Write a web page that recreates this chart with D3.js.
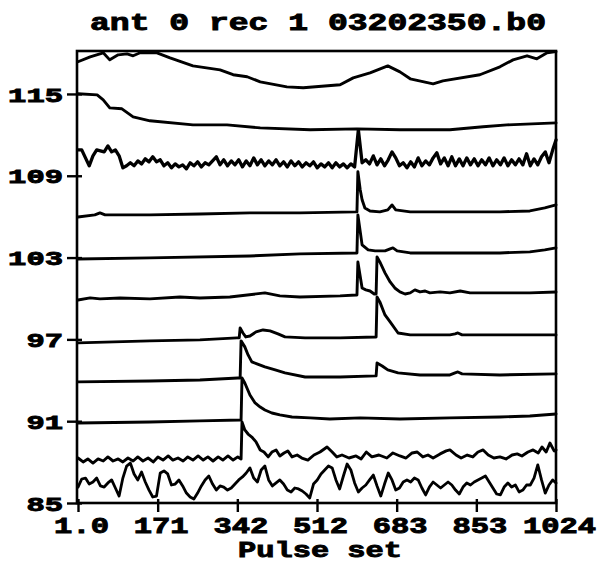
<!DOCTYPE html>
<html>
<head>
<meta charset="utf-8">
<script src="https://cdn.jsdelivr.net/npm/d3@7/dist/d3.min.js"></script>
<style>
  html, body { margin: 0; padding: 0; background: #fff; }
  svg { display: block; }
  text { font-family: "Liberation Mono", "DejaVu Sans Mono", monospace; font-weight: bold; fill: #000; stroke: #000; stroke-width: 0.9px; }
</style>
</head>
<body>
<svg id="chart" width="603" height="565"></svg>
<script>
// ---------------- DATA ----------------
const titleText = "ant 0 rec 1 03202350.b0";
const xLabelText = "Pulse set";
const xTickValues = [1, 171.5, 342, 512.5, 683, 853.5, 1024];
const xTickLabels = ["1.0", "171", "342", "512", "683", "853", "1024"];
const yTickValues = [85, 91, 97, 103, 109, 115];
const yTickLabels = ["85", "91", "97", "103", "109", "115"];

// traces given as [pulse set, value]
const trace1 = [[1,117.36],[27,117.72],[55,118.02],[69,117.50],[87,117.87],[106,117.94],[119,117.80],[134,118.02],[170,118.02],[198,117.65],[247,117.06],[305,116.77],[333,116.41],[363,116.26],[391,115.89],[448,115.52],[483,115.45],[562,115.67],[590,116.18],[626,116.55],[664,117.06],[690,116.62],[712,116.11],[761,115.74],[782,115.96],[861,116.41],[904,116.99],[932,117.50],[962,117.80],[983,117.58],[1005,118.02],[1024,118.10]];
const trace2 = [[1,115.01],[42,114.93],[55,114.57],[69,113.98],[95,113.91],[119,113.32],[155,113.03],[247,112.73],[320,112.73],[391,112.51],[498,112.37],[598,112.44],[690,112.37],[797,112.37],[868,112.59],[919,112.73],[1024,112.88]];
// noisy traces sampled every 8 pulse sets
const noisyPulses = [1,9,17,25,33,41,49,57,65,73,81,89,97,105,113,121,129,137,145,153,161,169,177,185,193,201,209,217,225,233,241,249,257,265,273,281,289,297,305,313,321,329,337,345,353,361,369,377,385,393,401,409,417,425,433,441,449,457,465,473,481,489,497,505,513,521,529,537,545,553,561,569,577,585,593,601,609,617,625,633,641,649,657,665,673,681,689,697,705,713,721,729,737,745,753,761,769,777,785,793,801,809,817,825,833,841,849,857,865,873,881,889,897,905,913,921,929,937,945,953,961,969,977,985,993,1001,1009,1017,1024];
const trace3Values = [110.90,110.90,110.31,109.73,110.46,110.90,110.83,110.75,111.19,110.75,110.90,110.46,109.58,109.73,109.95,109.73,110.09,109.87,110.24,110.02,110.39,110.02,110.17,109.73,109.95,109.58,109.87,109.65,109.80,109.51,109.95,109.73,110.02,109.65,109.95,109.80,110.09,110.39,109.80,110.17,109.73,110.09,109.80,110.17,109.65,110.09,109.73,110.31,109.80,110.17,109.73,110.09,109.80,110.17,109.73,110.02,109.65,110.09,109.73,110.02,109.65,109.95,109.73,110.02,109.58,109.87,109.65,109.95,109.58,109.95,109.65,109.87,109.58,109.87,109.65,112.37,109.95,110.17,109.87,110.46,109.80,110.24,109.73,110.17,110.75,110.31,109.73,109.95,109.58,110.02,109.65,110.31,109.73,110.09,109.80,110.31,110.68,109.87,110.31,109.73,110.39,109.73,110.24,109.73,110.31,109.80,110.24,109.73,110.17,109.80,110.31,109.73,110.17,109.80,110.31,109.73,110.17,109.80,110.24,109.80,110.61,109.73,110.24,109.80,110.39,110.75,109.95,110.90,111.63];
const trace4 = [[1,105.98],[37,106.13],[48,106.28],[59,106.13],[155,106.13],[262,106.20],[369,106.28],[476,106.28],[596,106.35],[598,106.35],[600,109.29],[605,107.97],[609,107.24],[615,106.64],[626,106.42],[647,106.35],[664,106.50],[673,106.86],[681,106.50],[712,106.35],[797,106.35],[904,106.35],[968,106.42],[1000,106.64],[1024,106.86]];
const trace5 = [[1,102.90],[155,102.98],[369,103.12],[476,103.27],[596,103.34],[598,103.34],[600,106.13],[609,103.93],[622,103.56],[637,103.49],[658,103.49],[669,103.64],[675,103.71],[684,103.49],[712,103.34],[797,103.34],[904,103.34],[968,103.42],[1000,103.56],[1024,103.71]];
const trace6 = [[1,99.89],[27,100.04],[48,99.97],[91,100.04],[155,99.97],[219,100.11],[262,100.04],[326,100.11],[401,100.41],[433,100.19],[476,100.11],[562,100.19],[596,100.26],[598,100.26],[600,102.68],[609,100.77],[617,100.63],[626,100.55],[635,100.33],[639,100.33],[641,103.05],[647,102.68],[658,101.88],[669,101.21],[679,100.77],[690,100.48],[701,100.33],[712,100.41],[722,100.63],[733,100.48],[744,100.55],[754,100.41],[776,100.48],[797,100.41],[819,100.55],[840,100.41],[904,100.41],[968,100.41],[1024,100.48]];
const trace7 = [[1,96.74],[155,96.89],[262,96.96],[341,97.11],[346,97.11],[348,97.84],[354,97.47],[360,97.18],[369,97.25],[382,97.55],[397,97.69],[412,97.62],[429,97.40],[444,97.18],[487,97.11],[562,97.11],[637,97.18],[639,97.18],[641,100.11],[647,99.75],[658,98.79],[669,98.28],[686,97.47],[712,97.33],[761,97.33],[797,97.33],[808,97.40],[814,97.47],[823,97.33],[904,97.33],[1024,97.33]];
const trace8 = [[1,93.88],[155,93.95],[262,94.02],[343,94.17],[348,94.17],[350,96.89],[358,96.45],[365,95.86],[373,95.35],[384,95.20],[401,94.98],[423,94.76],[444,94.54],[487,94.24],[562,94.24],[637,94.32],[639,94.32],[641,95.27],[652,95.05],[664,94.76],[686,94.54],[733,94.39],[797,94.39],[808,94.54],[814,94.61],[823,94.47],[904,94.39],[1024,94.47]];
const trace9 = [[1,90.87],[155,90.94],[262,91.02],[348,91.09],[350,91.09],[352,94.17],[358,93.80],[369,92.92],[380,92.34],[391,92.04],[401,91.82],[416,91.60],[433,91.46],[459,91.31],[498,91.24],[540,91.16],[605,91.24],[690,91.16],[797,91.24],[904,91.31],[968,91.38],[1024,91.53]];
const trace10 = [[1,88.30],[12,88.01],[22,88.23],[33,87.93],[44,88.23],[55,88.08],[65,88.38],[76,88.08],[87,88.23],[97,88.01],[108,88.30],[119,88.08],[129,88.38],[140,88.08],[151,88.30],[162,88.01],[172,88.38],[183,88.15],[194,88.45],[204,88.15],[215,88.30],[226,88.08],[236,88.38],[247,88.15],[258,88.45],[269,88.15],[279,88.38],[290,88.08],[301,88.38],[311,88.15],[322,88.45],[333,88.15],[343,88.38],[350,88.23],[352,90.94],[358,90.36],[365,90.06],[373,89.84],[382,89.48],[391,88.89],[399,88.74],[408,88.38],[416,88.74],[425,88.89],[433,88.45],[442,88.67],[450,88.82],[459,88.38],[470,88.52],[480,88.30],[493,88.15],[506,88.52],[519,88.74],[534,89.11],[545,88.74],[555,88.38],[566,88.52],[581,88.30],[596,88.45],[607,88.23],[618,88.74],[630,88.38],[645,88.52],[662,88.30],[675,88.67],[690,88.45],[703,88.30],[716,88.67],[727,88.74],[739,88.38],[750,88.52],[761,88.30],[776,88.60],[789,88.82],[797,88.89],[810,88.52],[821,88.30],[834,88.52],[846,88.38],[857,88.74],[868,88.89],[879,88.52],[891,88.30],[904,88.38],[917,88.23],[930,88.52],[941,88.60],[951,88.45],[964,88.74],[975,88.89],[986,88.67],[994,89.11],[1003,88.74],[1011,89.40],[1020,88.82],[1024,88.89]];
const trace11Values = [86.17,86.76,86.83,86.39,86.54,86.83,86.25,86.17,86.47,86.69,86.10,85.51,86.83,87.71,87.93,87.13,86.69,87.27,86.54,85.95,85.44,85.51,87.20,87.35,87.13,86.32,86.39,86.69,86.25,85.73,85.44,85.29,85.73,86.25,86.69,86.98,86.39,85.95,86.25,86.17,85.95,86.10,86.39,86.69,86.91,87.20,87.57,86.83,86.54,87.42,87.71,86.69,86.25,86.47,86.69,86.39,85.95,85.81,86.10,86.03,85.88,85.66,85.37,86.39,86.69,87.13,87.42,87.71,87.57,86.69,86.03,86.98,87.86,87.42,86.47,85.81,86.10,86.32,86.69,87.05,86.25,85.51,86.39,87.20,86.69,85.95,86.10,86.54,86.69,86.54,86.83,86.69,86.10,85.59,86.17,86.54,86.32,86.10,86.32,86.54,86.32,85.95,85.66,86.17,86.47,86.32,86.54,86.69,86.83,86.98,86.54,86.10,85.66,85.59,86.17,86.47,86.17,86.32,85.81,85.95,86.32,86.32,86.83,87.79,86.69,85.73,86.32,86.69,86.47];

// ---------------- DRAWING ----------------
const svg = d3.select("#chart");
const plot = { left: 77, right: 556, top: 51, bottom: 503 };

const x = d3.scaleLinear().domain([1, 1024]).range([78, 556]);
const y = d3.scaleLinear().domain([85, 118.15]).range([plot.bottom, plot.top]);

const trace3 = noisyPulses.map((p, i) => [p, trace3Values[i]]);
const trace11 = noisyPulses.map((p, i) => [p, trace11Values[i]]);
const traces = [trace1, trace2, trace3, trace4, trace5, trace6, trace7, trace8, trace9, trace10, trace11];
const widths = [2.9, 2.9, 3.3, 2.9, 2.9, 2.9, 2.9, 2.9, 2.9, 2.9, 2.8];

const line = d3.line().x(d => x(d[0])).y(d => y(d[1]));

svg.append("g")
  .selectAll("path")
  .data(traces)
  .join("path")
  .attr("d", line)
  .attr("fill", "none")
  .attr("stroke", "#000")
  .attr("stroke-width", (d, i) => widths[i])
  .attr("stroke-linejoin", "round")
  .attr("stroke-linecap", "round");

// frame
svg.append("rect")
  .attr("x", plot.left).attr("y", plot.top)
  .attr("width", plot.right - plot.left).attr("height", plot.bottom - plot.top)
  .attr("fill", "none").attr("stroke", "#000").attr("stroke-width", 2.6);

// y axis
const yAxis = d3.axisLeft(y).tickValues(yTickValues).tickSize(10).tickFormat((d, i) => yTickLabels[i]);
const gy = svg.append("g").attr("transform", `translate(${plot.left},0)`).call(yAxis);
gy.select(".domain").remove();
gy.selectAll(".tick line").attr("stroke", "#000").attr("stroke-width", 2.4).attr("x2", -10).attr("x1", 5);
gy.selectAll(".tick text")
  .attr("x", -14).attr("dy", "0.36em")
  .attr("font-size", 20)
  .attr("textLength", (d, i) => yTickLabels[i].length * 18.3)
  .attr("lengthAdjust", "spacingAndGlyphs")
  .style("font-family", '"Liberation Mono", monospace').style("font-weight", "bold");

// x axis
const xAxis = d3.axisBottom(x).tickValues(xTickValues).tickSize(9).tickFormat((d, i) => xTickLabels[i]);
const gx = svg.append("g").attr("transform", `translate(0,${plot.bottom})`).call(xAxis);
gx.select(".domain").remove();
gx.selectAll(".tick line").attr("stroke", "#000").attr("stroke-width", 2.4).attr("y1", -4);
gx.selectAll(".tick text")
  .attr("y", 12).attr("dy", "0.8em").attr("dx", 3)
  .attr("font-size", 22)
  .attr("textLength", (d, i) => xTickLabels[i].length * 18.3)
  .attr("lengthAdjust", "spacingAndGlyphs")
  .style("font-family", '"Liberation Mono", monospace').style("font-weight", "bold");

// title
svg.append("text")
  .attr("x", 318).attr("y", 30)
  .attr("text-anchor", "middle")
  .attr("font-size", 23)
  .attr("textLength", 456).attr("lengthAdjust", "spacingAndGlyphs")
  .text(titleText);

// x label
svg.append("text")
  .attr("x", 320).attr("y", 557)
  .attr("text-anchor", "middle")
  .attr("font-size", 22)
  .attr("textLength", 164).attr("lengthAdjust", "spacingAndGlyphs")
  .text(xLabelText);
</script>
</body>
</html>
